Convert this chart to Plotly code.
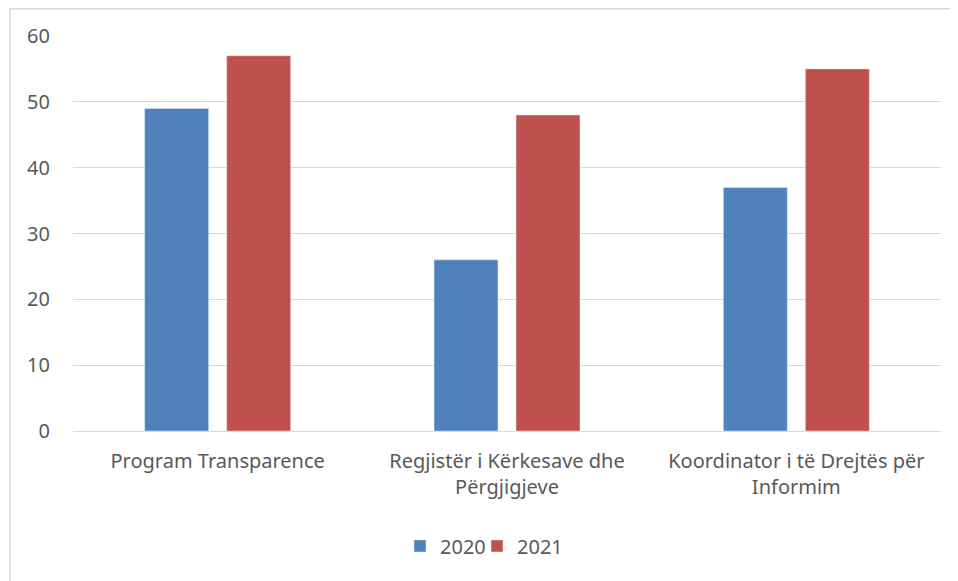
import plotly.graph_objects as go

categories = ["Program Transparence", "Regjistër i Kërkesave dhe<br>Përgjigjeve", "Koordinator i të Drejtës për<br>Informim"]
values_2020 = [49, 26, 37]
values_2021 = [57, 48, 55]
y_ticks = [0, 10, 20, 30, 40, 50, 60]

FONT = "Noto Sans"
GRAY = "#595959"
FS = 20

fig = go.Figure()
fig.add_trace(go.Bar(name="2020", x=categories, y=values_2020, marker_color="#4F81BD", legend="legend"))
fig.add_trace(go.Bar(name="2021", x=categories, y=values_2021, marker_color="#C0504D", legend="legend2"))

legend_common = dict(orientation="h", xanchor="left", y=-0.291, yanchor="middle",
                     font=dict(family=FONT, size=FS, color=GRAY), itemwidth=30,
                     bgcolor="rgba(0,0,0,0)")

fig.update_layout(
    width=950, height=573,
    margin=dict(l=65, r=17, t=28, b=150),
    paper_bgcolor="white", plot_bgcolor="white",
    barmode="group", bargap=0.433, bargroupgap=0.22,
    font=dict(family=FONT, size=FS, color=GRAY),
    showlegend=True,
    legend=dict(x=(400 - 73) / 868, **legend_common),
    legend2=dict(x=(477 - 73) / 868, **legend_common),
)
fig.update_yaxes(range=[0, 60], tickvals=y_ticks, showgrid=True, gridcolor="#D9D9D9", gridwidth=1,
                 zeroline=False, showline=False, ticks="", ticklabelstandoff=22,
                 tickfont=dict(family=FONT, size=FS, color=GRAY))
fig.update_xaxes(showgrid=False, showline=True, linecolor="#D9D9D9", linewidth=1, ticks="",
                 ticklabelstandoff=12, tickfont=dict(family=FONT, size=FS, color=GRAY))

# outer chart border (left and top edges visible in the reference)
fig.add_shape(type="line", xref="paper", yref="paper", x0=(10 - 73) / 868, x1=(958 - 73) / 868,
              y0=(431 - 8.8) / 395, y1=(431 - 8.8) / 395, line=dict(color="#D9D9D9", width=1.5))
fig.add_shape(type="line", xref="paper", yref="paper", x0=(10 - 73) / 868, x1=(10 - 73) / 868,
              y0=(431 - 8.8) / 395, y1=(431 - 585) / 395, line=dict(color="#D9D9D9", width=1.5))

fig.write_html("out.html")
